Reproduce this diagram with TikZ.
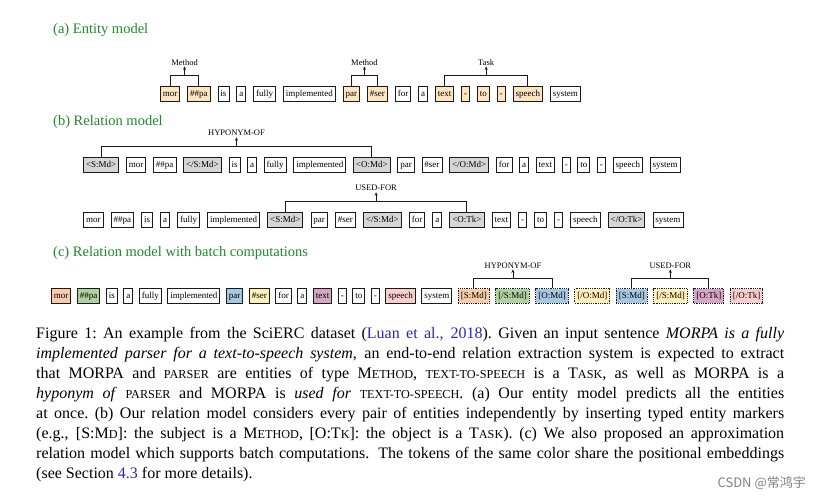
\documentclass[tikz,border=0pt]{standalone}
\usepackage{fontspec}
\setmainfont{Liberation Serif}
\newfontfamily\cjkfont{Noto Sans CJK SC}
\usetikzlibrary{positioning,calc,arrows.meta}

\definecolor{headgreen}{RGB}{30,140,40}
\definecolor{linkblue}{RGB}{40,40,190}
\definecolor{boxline}{RGB}{25,25,25}
\definecolor{entfill}{RGB}{252,229,192}
\definecolor{markgray}{RGB}{214,214,214}
\definecolor{cpeach}{RGB}{248,204,170}
\definecolor{cgreen}{RGB}{176,210,160}
\definecolor{cblue}{RGB}{166,200,228}
\definecolor{cyellow}{RGB}{255,240,184}
\definecolor{cmauve}{RGB}{214,166,196}
\definecolor{cpink}{RGB}{250,206,206}

\tikzset{
  tok/.style={draw=boxline,fill=white,line width=0.8pt,inner xsep=2.5pt,inner ysep=0pt,
    minimum height=14.5pt,text height=6.4pt,text depth=1.9pt,font=\fontsize{9}{10}\selectfont},
  ent/.style={tok,fill=entfill},
  markbox/.style={tok,fill=markgray,line width=1pt},
  dotbox/.style={tok,dash pattern=on 0.9pt off 0.9pt},
  rel/.style={inner sep=1pt,anchor=south,font=\fontsize{8.5}{10}\selectfont},
  brk/.style={draw=boxline,line width=0.9pt},
  arr/.style={brk,-{Stealth[length=3.5pt,width=3pt]}},
  head/.style={inner sep=0pt,anchor=base west,text=headgreen,font=\fontsize{14.5}{17}\selectfont},
  capline/.style={inner sep=0pt,anchor=base west,font=\fontsize{16}{20}\selectfont},
}
\newcommand{\fsc}[1]{{\fontsize{12.2}{12}\selectfont #1}}

\begin{document}
\begin{tikzpicture}[x=1pt,y=-1pt]
\path[use as bounding box] (0,0) rectangle (815,499);
\path[fill=white,draw=none] (0,0) rectangle (815,499);

% section headings
\node[head] (ha) at (53,33) {(a) Entity model};
\node[head] (hb) at (53,125) {(b) Relation model};
\node[head] (hc) at (53,256) {(c) Relation model with batch computations};

% (a) entity model
\coordinate (ta0) at (153,94);
\foreach \t/\s [count=\i] in {mor/ent,\#\#pa/ent,is/tok,a/tok,fully/tok,implemented/tok,
    par/ent,\#ser/ent,for/tok,a/tok,text/ent,-/ent,to/ent,-/ent,speech/ent,system/tok}{
  \pgfmathtruncatemacro\prev{\i-1}
  \node[\s,right=7pt of ta\prev] (ta\i) {\t};
}

% (b) relation model, two pairs
\coordinate (tb0) at (76.2,165);
\foreach \t/\s [count=\i] in {<S:Md>/markbox,mor/tok,\#\#pa/tok,<\slash S:Md>/markbox,is/tok,a/tok,
    fully/tok,implemented/tok,<O:Md>/markbox,par/tok,\#ser/tok,<\slash O:Md>/markbox,for/tok,a/tok,
    text/tok,-/tok,to/tok,-/tok,speech/tok,system/tok}{
  \pgfmathtruncatemacro\prev{\i-1}
  \node[\s,right=6.8pt of tb\prev] (tb\i) {\t};
}
\coordinate (tu0) at (76,220);
\foreach \t/\s [count=\i] in {mor/tok,\#\#pa/tok,is/tok,a/tok,fully/tok,implemented/tok,
    <S:Md>/markbox,par/tok,\#ser/tok,<\slash S:Md>/markbox,for/tok,a/tok,<O:Tk>/markbox,
    text/tok,-/tok,to/tok,-/tok,speech/tok,<\slash O:Tk>/markbox,system/tok}{
  \pgfmathtruncatemacro\prev{\i-1}
  \node[\s,right=7.2pt of tu\prev] (tu\i) {\t};
}

% (c) batch computations
\coordinate (tc0) at (45.3,296);
\foreach \t/\s/\c [count=\i] in {mor/tok/cpeach,\#\#pa/tok/cgreen,is/tok/white,a/tok/white,
    fully/tok/white,implemented/tok/white,par/tok/cblue,\#ser/tok/cyellow,for/tok/white,a/tok/white,
    text/tok/cmauve,-/tok/white,to/tok/white,-/tok/white,speech/tok/cpink,system/tok/white,
    [S:Md]/dotbox/cpeach,[\slash S:Md]/dotbox/cgreen,[O:Md]/dotbox/cblue,[\slash O:Md]/dotbox/cyellow,
    [S:Md]/dotbox/cblue,[\slash S:Md]/dotbox/cyellow,[O:Tk]/dotbox/cmauve,[\slash O:Tk]/dotbox/cpink}{
  \pgfmathtruncatemacro\prev{\i-1}
  \node[\s,fill=\c,right=5.7pt of tc\prev] (tc\i) {\t};
}

% relation brackets
\foreach \p/\q/\l/\n/\h in {ta1/ta2/Method/ma/11,ta7/ta8/Method/mb/11,ta11/ta15/Task/mc/11,
    tb1/tb9/HYPONYM-OF/md/11,tu7/tu13/USED-FOR/me/11,tc17/tc19/HYPONYM-OF/mf/10,tc21/tc23/USED-FOR/mg/10}{
  \coordinate (k\n) at ($(\p.north)!.5!(\q.north)+(0,-\h)$);
  \draw[brk] (\p.north) |- (k\n) -| (\q.north);
  \node[rel] (\n) at ($(k\n)+(0,-9)$) {\l};
  \draw[arr] (k\n) -- (\n.south);
}

% caption
\node[capline] (cap1) at (36,338) {\makebox[748pt][s]{Figure 1:\ An example from the SciERC dataset (\textcolor{linkblue}{Luan et al., 2018}).\ Given an input sentence \textit{MORPA is a fully}}};
\node[capline] (cap2) at (36,358) {\makebox[748pt][s]{\textit{implemented parser for a text-to-speech system}, an end-to-end relation extraction system is expected to extract}};
\node[capline] (cap3) at (36,378) {\makebox[748pt][s]{that MORPA and \fsc{PARSER} are entities of type M\fsc{ETHOD}, \fsc{TEXT-TO-SPEECH} is a T\fsc{ASK}, as well as MORPA is a}};
\node[capline] (cap4) at (36,398) {\makebox[748pt][s]{\textit{hyponym of} \fsc{PARSER} and MORPA is \textit{used for} \fsc{TEXT-TO-SPEECH}.\ (a) Our entity model predicts all the entities}};
\node[capline] (cap5) at (36,418) {\makebox[748pt][s]{at once.\ (b) Our relation model considers every pair of entities independently by inserting typed entity markers}};
\node[capline] (cap6) at (36,438) {\makebox[748pt][s]{(e.g., [S:M\fsc{D}]: the subject is a M\fsc{ETHOD}, [O:T\fsc{K}]: the object is a T\fsc{ASK}).\ (c) We also proposed an approximation}};
\node[capline] (cap7) at (36,458) {\makebox[748pt][s]{relation model which supports batch computations. The tokens of the same color share the positional embeddings}};
\node[capline] (cap8) at (36,478) {(see Section \textcolor{linkblue}{4.3} for more details).};

% watermark
\node[inner sep=0pt,anchor=base east,text={rgb,255:red,130;green,130;blue,130},font=\cjkfont\fontsize{13}{15}\selectfont] (wm) at (806,487) {CSDN @常鸿宇};
\end{tikzpicture}
\end{document}
